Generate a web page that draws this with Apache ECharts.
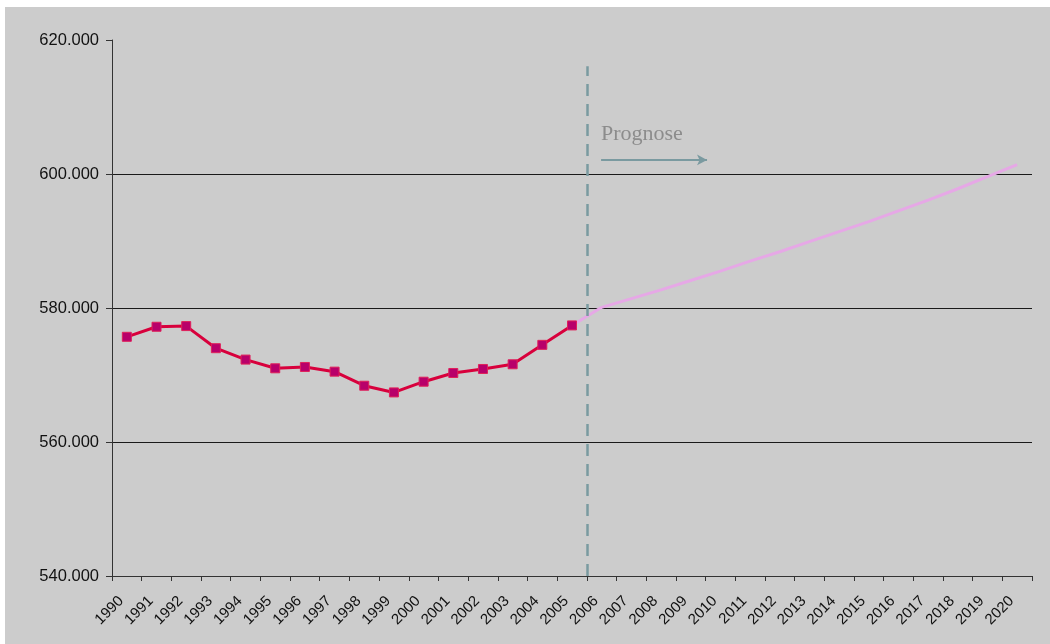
<!DOCTYPE html>
<html>
<head>
<meta charset="utf-8">
<script src="https://cdn.jsdelivr.net/npm/echarts@6/dist/echarts.min.js"></script>
<style>
html,body{margin:0;padding:0;background:#ffffff;}
#chart{position:absolute;left:5px;top:7px;width:1045px;height:637px;background:#cccccc;}
</style>
</head>
<body>
<div id="chart"></div>
<script>
const years = ['1990','1991','1992','1993','1994','1995','1996','1997','1998','1999','2000','2001','2002','2003','2004','2005','2006','2007','2008','2009','2010','2011','2012','2013','2014','2015','2016','2017','2018','2019','2020'];
// population (thousands), observed 1990-2005
const observed = [575.7,577.2,577.3,574.0,572.3,571.0,571.2,570.5,568.4,567.4,569.0,570.3,570.9,571.6,574.5,577.4];
// forecast 2005-2020
const forecast = [577.4,580.1,581.4,582.7,584.1,585.5,587.0,588.4,589.9,591.4,592.9,594.5,596.1,597.8,599.6,601.4];
const yTicks = {min:540, max:620, interval:20};
const annotation = 'Prognose';

const obsData = years.map((y,i)=> i < observed.length ? observed[i] : null);
const fcStart = years.indexOf('2005');
const fcData = years.map((y,i)=> i >= fcStart ? forecast[i-fcStart] : null);

const chart = echarts.init(document.getElementById('chart'));
chart.setOption({
  backgroundColor:'#cccccc',
  animation:false,
  grid:{left:107, right:18, top:33, bottom:68, containLabel:false, outerBoundsMode:'none'},
  xAxis:[{
    type:'category', data:years, boundaryGap:true,
    axisLine:{onZero:false, lineStyle:{color:'#333',width:1}},
    axisTick:{show:true, length:5, lineStyle:{color:'#333'}},
    axisLabel:{interval:0, rotate:45, fontSize:15, color:'#111', fontFamily:'Liberation Sans, Arial', margin:17, padding:[0,8,0,0]},
    splitLine:{show:false}
  },{
    type:'value', min:-0.5, max:years.length-0.5, show:false
  }],
  yAxis:{
    type:'value', min:yTicks.min, max:yTicks.max, interval:yTicks.interval,
    axisLine:{show:true, onZero:false, lineStyle:{color:'#333'}},
    axisTick:{show:true, length:6, lineStyle:{color:'#333'}},
    axisLabel:{fontSize:16.5, color:'#111', fontFamily:'Liberation Sans, Arial', margin:13,
      formatter:v=> v + '.000'},
    splitLine:{show:true, lineStyle:{color:['rgba(0,0,0,0)','#1a1a1a','#1a1a1a','#1a1a1a','rgba(0,0,0,0)'], width:1}}
  },
  graphic:[{
    type:'text', left:596, top:116,
    style:{text:annotation, fill:'#8c8c8c', font:'22px "Liberation Serif", "DejaVu Serif", serif'}
  }],
  series:[
    {
      type:'line', data:fcData, symbol:'none', smooth:false,
      lineStyle:{color:'#e6a8e6', width:3}, z:2
    },
    {
      type:'line', data:obsData, symbol:'rect', symbolSize:9,
      lineStyle:{color:'#d8003c', width:3},
      itemStyle:{color:'#b8006a', borderColor:'#e0205a', borderWidth:1},
      z:3
    },
    {
      type:'line', xAxisIndex:1, data:[],
      markLine:{
        silent:true, symbol:['none','none'], label:{show:false},
        lineStyle:{color:'#7a9aa0', type:[12,8], width:2.5},
        data:[[{coord:[15.5,540]},{coord:[15.5,616.1]}]]
      },
      z:4
    },
    {
      type:'line', xAxisIndex:1, data:[],
      markLine:{
        silent:true, symbol:['none','arrow'], symbolSize:[8,10], label:{show:false},
        lineStyle:{color:'#7a9aa0', type:'solid', width:2},
        data:[[{coord:[15.98,602.1]},{coord:[19.55,602.1]}]]
      },
      z:4
    }
  ]
});
</script>
</body>
</html>
